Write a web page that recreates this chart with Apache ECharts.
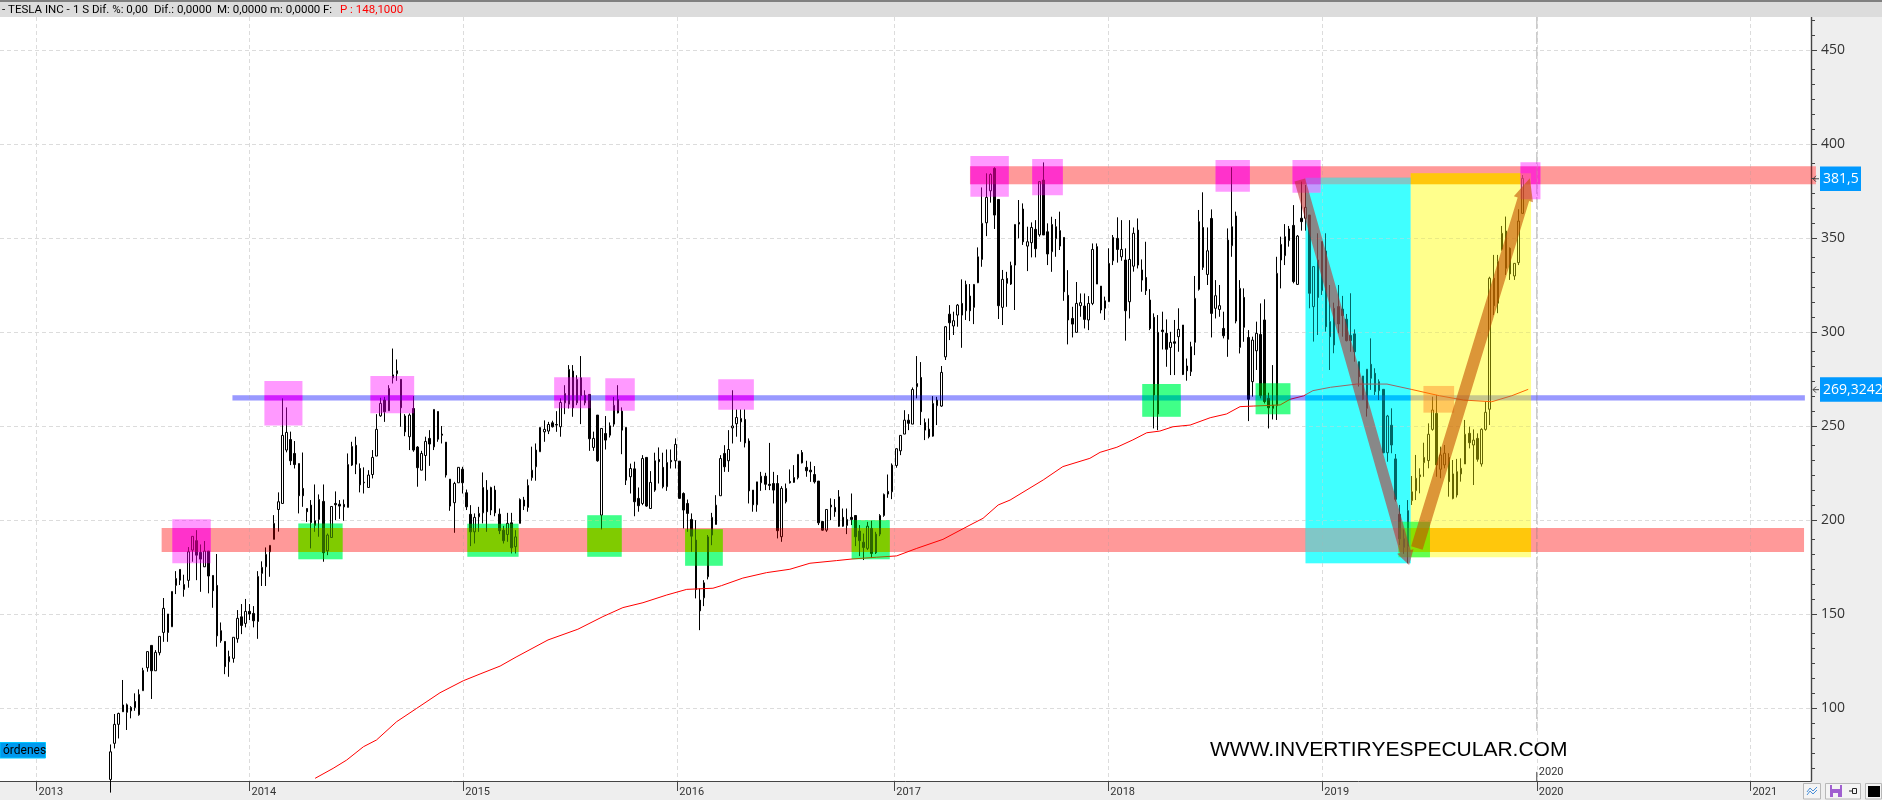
<!DOCTYPE html>
<html>
<head>
<meta charset="utf-8">
<title>TESLA INC</title>
<script src="https://cdn.jsdelivr.net/npm/echarts@6/dist/echarts.min.js"></script>
<style>
  html, body { margin: 0; padding: 0; background: #fff; }
  #main { width: 1882px; height: 800px; }
</style>
</head>
<body>
<div id="main"></div>
<script>
// weekly candles, first candle sits on week 27 of the axis
const firstWeek = 27;
const opens = [
  62,81.2,91.3,101.6,97.7,98.5,103.5,96.4,109.2,121.4,133.3,119.8,129.4,140.2,150,143.2,165.2,173.7,163,167.9,184,189,182.8,175.1,183.5,170.5,165.2,141.1,135.4,124.6,126.4,136.8,148.5,145,151.4,150.3,146,171.6,175.1,183.1,189.7,205.6,
  208.8,237.2,242.8,235.4,230,216.8,206.1,207.9,197.1,200.3,209.9,183.6,190.7,208.8,208.4,208.3,206.7,229.2,239.7,227.4,220.1,217.3,224.2,234,255.4,263.8,258.1,275.6,277.8,274.8,255.3,244.3,259.3,238.8,226.5,234.3,243.4,238.9,257.7,245.7,241.4,221.7,209.2,219.8,227,214.5,203,193.7,201.7,203.8,215.9,205.3,215.9,203.1,194.6,192.3,198.5,185.8,198.2,210.6,206.7,222.5,228.3,236.3,246.9,247.3,251.7,250.8,249.6,262.3,261.6,279.2,262.3,275.6,262.3,266.8,238.6,255.8,202.6,246,245.1,251,264.1,257.9,249.2,223,227.2,211.5,208.8,233.3,
  206.1,215.9,232.2,228,217.7,231.7,231.5,231.3,214.1,208.8,200.3,189.3,157.4,158.6,169.8,192,197.6,212.9,235.4,231.5,249,251.2,252.2,253.5,242,215.9,208.1,219.8,223.3,219,219.4,219.4,191.1,209.7,220.5,220,222.5,235.9,228,226.5,224.2,220.7,199.2,194.6,207.9,206.7,212.3,201.4,197.1,201.4,202.4,194.1,188.2,184.9,195.5,182.6,192.5,202.4,215.2,215,229,236.8,245.7,253.1,251,270.9,275.8,247.8,248.3,244.6,260.8,260.6,
  286.8,309.5,303.2,309,315.2,311.3,319.1,313.1,326.2,338.6,358.1,375.1,387,370.5,313.1,328.5,325.5,335.6,358.3,365.4,345.7,347.5,354.6,351.7,380.8,353.3,342.7,349.6,353.9,350.3,319.5,307.2,299.8,314,313.8,306.4,315.2,345.4,324.4,312.6,316.1,337.9,349.8,340,338.3,316.1,335,354.2,333,329,317,307.8,256.4,301,299.3,291.8,294.8,297.5,303.7,281.9,278.9,294.5,322.7,355.6,330.6,360.4,312.6,312,301.9,296.1,345.9,361.7,291.8,318.4,297.1,273.6,290,298.7,306.4,264.7,259.4,260.8,338.3,340.6,348.6,356.7,325.3,
  360.5,360.5,362.2,313.5,338.3,322,343.1,305.5,293.1,313.5,312.2,306.8,298.2,299,284.2,276.6,259.4,282.8,278,268.8,269.5,235.8,250.4,232.5,203,190,186,210.3,215.6,224,230.5,231.6,248.2,256.7,227,229.3,233.3,224.5,213.3,224.5,229.8,246.1,239.9,243.4,229.8,248.2,258.9,328.6,315.3,344,353.7,344.5,329.8,336.9,363.1
];
const closes = [
  76.7,91.3,97.1,98,101.7,100.3,100.3,107.2,120,130,119.8,129.6,138.1,153,140.2,162,168.9,168,165.7,183.1,191.3,181.3,179.2,183.5,170.2,162.4,138.4,135.8,122,127.4,137.6,147.7,143.9,151.4,150,146.4,170,174.8,181.7,186.5,198.2,209.7,
  245,246.6,231.5,229.5,212.9,212.9,204.4,198.7,199.6,210.9,182.6,192,207.2,208.1,207.4,207,229.5,239.1,229.7,218.7,219.8,223.9,233.3,248.2,262,257.6,270,277.2,279.4,259.7,246.9,255.8,237.2,227.8,235.4,241.8,240.4,258.8,243,245.1,223.9,207.4,219.4,228,219.8,207,193.7,201.4,203.5,217.3,204.4,217.3,203.8,194.3,189,198.2,185.2,191,210.9,207.4,218.4,226.5,237.2,249.2,248.2,250.8,249.6,250.5,262.5,267.3,280.1,259.7,274.8,266.1,266.4,243.2,243.4,231.5,248.7,242.5,250.1,261,257,247.8,221.2,227.4,209.7,207.6,232.7,207.4,
  220,231.5,231,217.7,230.6,231,240.2,211.5,205.3,203.5,191.4,163,151.7,166.6,191,201.4,207.9,232.7,228.3,237.5,250,254.5,254,241,215.5,208.1,220.3,223.3,219,218.4,215.9,194.3,216.8,216.8,219.8,222.6,234.9,230.4,226.2,225.6,220.3,198.5,194.6,205.6,207,204.4,196.7,196.7,200.3,200.3,191.1,189,185.4,196.7,182.2,192.5,202.4,213.6,213.8,229.2,237.9,245,253.1,251.4,269.4,272.6,257.6,251.9,244.3,262,263.8,278.5,
  302.8,304.9,306,314.3,309,325.3,311.3,325.3,340,357.8,371.6,383.8,362.2,314,328,325.9,335.4,357.2,357.4,348,348,355.6,344.3,380,351.6,341.5,357.2,356,345.7,321.4,306.4,304.2,315.2,315.6,306.7,315.2,343.9,325.5,311.7,316.6,336.5,350.3,343.9,343.9,311.3,338.6,352.5,335.6,327.6,322,301.9,266.5,299.8,300.2,290.8,294.5,294,301.4,277.4,279.4,292.2,317.9,358.7,334.4,343.2,309.9,319.3,314,298,348.9,356,305.8,323.2,302.5,264.2,295.7,299.3,266.1,263,259.7,261.1,331.2,346.6,350.7,354.8,326.8,351,
  358.7,366.3,320.6,334.8,318.4,348.1,302.8,297.5,312.6,304.3,308.7,295.4,295.4,289.5,276.2,264.2,280.2,275.4,268.3,273.6,235.8,255.3,239.9,211,190,185.5,205,215,222.2,223,233.3,245.6,258.5,229.3,234.6,235.5,220.4,211.5,225.7,227.5,245.6,241.1,242.5,232.3,248.2,257.3,328.6,314,337.4,352.5,333.9,330.9,336.5,359,381.7
];
const lows = [
  55,78.5,83.8,98,88.3,94.5,98.5,95.9,109.2,119.3,104.8,119.8,128,135.2,135.2,143.2,160.6,165.4,159.2,164,177.8,168,161.8,175,161,153.3,132.6,134.7,118,116.6,124.1,134.7,139.3,142.9,146.8,142.9,136.8,164.9,164.9,169.8,189.7,193.8,
  208.8,236,229.2,227.4,203.5,207,199,184.9,193.7,191.1,177.8,181.3,190.7,199.9,200.6,199.6,206.7,228.7,224.4,214.7,214.1,217.3,222.1,234,254.9,252.2,258.1,272.6,274,249.6,244.6,237.2,236.3,217.7,226.5,220.9,228.8,237.2,241.6,240.7,222.6,204.9,193.2,219.8,214.1,205.3,186.1,187.5,193.7,198.2,193.7,202.6,202,192.5,187.5,188.4,182.2,182.2,198.2,205.3,204.4,220.9,220.9,236.3,241.6,245.7,249.2,246.9,244.3,256.3,259.3,254.9,261.1,251,261,236.8,236.8,231,195,237.5,243.9,249.6,256.7,235,218.6,214.1,202,204.4,207.9,207,
  206.1,215,219.4,216.8,215.5,227.4,227.4,211.5,195.5,193.7,183.1,158.3,141.4,154.2,168.4,186.6,197.6,212.9,225.6,225.6,240.7,244.3,241.6,238.6,208.8,204.4,204.4,215.5,215.9,215.9,208.8,190.2,188.4,208.8,219.4,219.8,221.6,230.1,223,220.3,219.4,197.3,194.3,193.7,199.9,201.7,196.4,196.4,192.5,197.3,186.1,180.8,178.7,184,180,181.9,191.4,201.7,211.8,211.1,227.8,234.5,245.7,247.8,251,264.7,250.5,242.5,243.4,244.3,250.5,260.2,
  285.1,295.7,298.4,302.8,291.6,306.4,305.8,304.2,326,334.7,351,368.8,354.8,306.9,303.7,313.4,325,311.7,349.8,346.3,332.4,339.7,339.7,350.7,351.6,335.6,332,340,343.6,316.6,293.4,297.1,299.8,308.1,301.9,301,314.3,325.5,309.9,306.4,316,335.6,336.9,337.9,295.4,307.2,332.1,333.8,321.4,319.7,301,248.7,247.8,290.7,281.5,277.1,277.1,289.5,277.1,274.1,276.6,287.7,322,333,325,297.1,307.2,308.1,296.6,286.8,340,304.6,288.6,294.8,252.6,265.6,279.8,264.7,262,248.7,253.5,253.2,323.2,335.6,345.4,325.9,325,
  353.9,353.9,312.6,294.9,298.4,319.7,300.2,279.8,288.7,299.3,297.5,295,289.5,284.2,271,263.8,255,269.2,266.5,263.8,235.5,231,235.5,209.8,186.7,182,177,208,210.6,214.2,223,227.5,247.5,223,222.2,227.5,212.4,211,212,220.4,229.8,238.1,218.6,231,228.4,247.5,250.5,309,310,343.3,330.3,327.7,327.7,335.6,363
];
const highs = [
  80.6,96.8,97.5,114.9,102.4,101,107.8,109.9,121.4,130,133.3,130.8,138.1,158.5,150,162,172.8,173.7,170.9,185.6,191.3,194.6,187,188.8,183.5,170.5,181.9,145.5,135.4,130.5,137.6,152.1,155.3,158,155.3,154.2,172.8,178,185.4,186.5,202.6,214.7,
  264.7,259.9,247,242,230,235.9,206.1,210.6,218.9,213.6,218.9,192.8,207.2,215.2,210.6,210.9,235.4,241.6,244.3,230.1,228,226.5,237.2,256.3,265,265.5,271.7,291.2,285.4,274.8,256.3,256.7,265.9,239.3,236.8,244.3,247.8,258.8,257.7,250,241.4,221.7,220.3,228,228.3,216.2,207.9,203.5,207,225.3,221.2,217.7,218.2,206.1,196.9,203.8,203.8,194.6,211.5,212.3,221.6,239,240.7,249.2,253,252.2,252.8,257.9,264.7,271.7,282.4,282.4,277,287.2,269,266.8,247,255.8,248.7,255.3,251.9,265.5,271.7,259.9,249.2,230,231,217.3,234.5,233.3,
  226,235.8,238.6,235.8,237.5,237.5,243.4,231.3,214.7,210.9,203.5,199.9,163.6,168,192,203.8,213.2,234.5,239.8,247.8,269,258.8,258.8,258.8,243.4,215.9,220.3,225.6,225.1,241,225.6,223.9,218,219.4,226.9,229.2,234.9,237.2,231.5,231,228.7,220.7,199.2,205.6,211.5,211.1,215.9,206.1,206.1,214.1,202.4,197.3,192.8,199,199.6,193.7,203.1,214.1,224.2,230.1,238.1,245,258.4,256.3,270.5,287.2,284,254,254,265.9,265.5,281.9,
  303.2,314.3,310.8,314.9,328,327.3,325.5,325.5,345,376.9,384.4,384.4,387.6,370.5,333,332,337.4,357.2,370.2,368.4,356,358.3,359.5,380,390.2,357.8,361.3,360.1,364,350.3,332.9,313.4,326.6,320.5,320.5,319.1,347.1,347.1,324.4,318.8,344.5,351.6,361,359.5,344.5,359.5,355.6,360.4,338.6,348,322.8,309.9,309,310.8,306.7,300.1,306.4,312.6,303.7,285.9,294.8,329.8,364.9,374.3,355.6,365.2,327.6,325,310.8,355.1,387.6,364,327.6,323.2,301,297.5,305.5,315.2,317.4,267.7,282.4,340,350.7,357.4,356.4,367.5,351.6,
  380,378.2,362.2,334.8,352.5,348.1,352.5,325,315.6,325,319.2,309.6,320.6,301.4,284.2,276.6,280.2,296.6,280.7,274.8,269.5,255.9,259.4,235.1,208,195,210.6,223.4,234.6,227.5,241.1,251.4,265.6,266.5,239,239.9,235.5,231.9,232.5,232.8,253.2,249.7,248.2,246.1,248.8,263,329.4,341,341,356.4,361.4,345,336.5,365.3,383.5
];

// moving average, [week, price]
const maWeeks = [77,81.4,84.7,88.8,92,96.9,101.8,107.5,113.2,117.3,122.2,126.1,133.9,141.2,147.3,152.2,157.1,162.9,167.8,174.2,176.3,181.5,187.3,193,197.9,204.4,208.4,214.2,219.1,224,230.4,237,240.2,243.9,246.8,254.9,259.7,266.3,268.8,272.9,276.8,280.2,283.4,286.6,290.8,295.7,299.7,303,306.2,312.8,315.2,318.5,320.8,325.1,331.5,338.9,344.8,351.7,357.6,364.5,369.4,373.4];
const maValues = [62.6,67.9,72.3,79.4,83,92.7,99.8,108.1,114.5,118.1,122.3,127.1,136.2,141.9,148.6,153.4,156,160.1,163.1,163.7,165.1,169.1,172,173.8,177,178.4,179.3,180.2,180.9,184.9,189.7,197.3,200.9,208,210.6,221.3,228.4,232.8,236,238.7,242.6,246.4,247.3,249.6,250.5,254.4,256.4,260.3,260.6,261.2,264.2,266,268.8,270.6,272.3,272.3,269.5,266.1,263.8,262.9,266.1,269.5];

// axis
const weekMax = 442.5;
const priceMin = 61.17;
const priceMax = 467.55;
const yearLabels = ['2013','2014','2015','2016','2017','2018','2019','2020','2021'];
const yearWeeks = [8.92,60.96,113.2,165.5,218.5,270.8,323.1,375.5,427.7];
const priceTicks = [100,150,200,250,300,350,400,450];
const priceMinorTicks = [68,76,84,92,108,116,124,132,140,158,166,174,182,190,208,216,224,232,240,258,266,274,282,290,308,316,324,332,340,358,366,374,382,390,408,416,424,432,440,458,466];

// drawn zones, [week from, week to, price low, price high]
const redBands = [[39.5,440.8,183,195.7],[237,443.7,378.6,388.1]];
const blueBands = [[56.8,441,263.5,266.3]];
const cyanZones = [[319,344.7,177,382.1]];
const yellowZones = [[344.7,374.1,180.2,384.4]];
const pinkZones = [[42.1,51.5,177,200.4],[64.6,73.9,250.2,273.9],[90.5,101.2,256.8,276.6],[135.4,144.3,259.4,275.9],[147.9,155.1,258.1,275.4],[175.5,184.2,258.7,274.8],[237.1,246.5,372,393.6],[252.2,259.7,372.7,392],[297,305.4,374.6,391.5],[315.8,322.7,374.1,391.5],[371.5,376.4,370.6,390.3]];
const greenZones = [[72.9,83.7,179.1,198.2],[114.2,126.7,180.5,198],[143.5,151.9,180.5,202.5],[167.4,176.6,175.7,195.1],[208.1,217.4,179.1,200],[279.1,288.5,254.9,272.3],[306.8,315.3,256.3,272.7],[341.7,349.4,180.2,199.1]];
const peachZones = [[347.8,355.3,257.1,271.3]];
// arrows, [tail week, tail price, tip week, tip price]
const greyArrow = [317.6,380.9,344.3,176.1];
const orangeArrow = [346.2,185.1,373.8,381.8];
// price tags on the scale
const tagValues = [381.5,269.3242];
const tagTexts = ['381,5','269,3242'];
// the "now" marker
const nowWeek = 375.5;
const nowLabel = '2020';
const nowLineEnd = 87.8;
const nowTickEnd = 66;

const font = 'Open Sans';

const candleData = opens.map((o, i) => [firstWeek + i, o, closes[i], lows[i], highs[i]]);
const maData = maValues.map((v, i) => [maWeeks[i], v]);

// every zone kind has a tint laid over the candles, and the colour it must look like at the end
const kinds = {
  red:    { tint: [255,0,0],   a: 0.3, look: [255,153,153] },
  blue:   { tint: [0,0,255],   a: 0.3, look: [153,153,255] },
  cyan:   { tint: [0,255,255], a: 0.4, look: [64,255,255],  red: [128,200,200], blue: [0,191,255] },
  yellow: { tint: [255,255,0], a: 0.4, look: [255,255,140], red: [255,200,12],  blue: [200,200,140] },
  pink:   { tint: [255,0,255], a: 0.4, look: [255,160,255], red: [255,51,204],  blue: [240,30,255] },
  green:  { tint: [0,255,0],   a: 0.4, look: [64,255,136],  red: [128,204,0],   blue: [0,200,160] },
  peach:  { tint: [255,120,0], a: 0.4, look: [255,200,160], red: [255,200,160], blue: [205,180,170] }
};

function undo(col, kind) {
  return col.map((c, i) => Math.max(0, Math.min(255, (c - kind.tint[i] * kind.a) / (1 - kind.a))));
}
function rgb(col) { return `rgb(${col.map(Math.round).join(',')})`; }
function rgba(col, a) { return `rgba(${col.join(',')},${a})`; }

const bandList = [];
redBands.forEach(b => bandList.push({ box: b, kind: 'red' }));
blueBands.forEach(b => bandList.push({ box: b, kind: 'blue' }));
const zoneList = [];
cyanZones.forEach(b => zoneList.push({ box: b, kind: 'cyan' }));
yellowZones.forEach(b => zoneList.push({ box: b, kind: 'yellow' }));
greenZones.forEach(b => zoneList.push({ box: b, kind: 'green' }));
pinkZones.forEach(b => zoneList.push({ box: b, kind: 'pink' }));
peachZones.forEach(b => zoneList.push({ box: b, kind: 'peach' }));

// layer under the candles: solid colours, overlaps worked out by hand
const underBoxes = [];
const underColors = [];
function addUnder(box, col) { underBoxes.push(box); underColors.push(rgb(col)); }
bandList.forEach(b => addUnder(b.box, undo(kinds[b.kind].look, kinds[b.kind])));
zoneList.forEach(z => addUnder(z.box, undo(kinds[z.kind].look, kinds[z.kind])));
zoneList.forEach(z => {
  bandList.forEach(b => {
    const x1 = Math.max(z.box[0], b.box[0]);
    const x2 = Math.min(z.box[1], b.box[1]);
    const y1 = Math.max(z.box[2], b.box[2]);
    const y2 = Math.min(z.box[3], b.box[3]);
    if (x1 < x2 && y1 < y2) {
      addUnder([x1, x2, y1, y2], undo(undo(kinds[z.kind][b.kind], kinds[z.kind]), kinds[b.kind]));
    }
  });
});

// layer over the candles: the tints
const overList = bandList.concat(zoneList);
const overBoxes = overList.map(o => o.box);
const overColors = overList.map(o => rgba(kinds[o.kind].tint, kinds[o.kind].a));

function boxRenderer(colors) {
  return function (params, api) {
    const a = api.coord([api.value(0), api.value(3)]);
    const b = api.coord([api.value(1), api.value(2)]);
    return {
      type: 'rect',
      shape: { x: a[0], y: a[1], width: b[0] - a[0], height: b[1] - a[1] },
      style: { fill: colors[params.dataIndex] }
    };
  };
}

function arrowRenderer(color, shaft, headWidth, headLen) {
  return function (params, api) {
    const t = api.coord([api.value(0), api.value(1)]);
    const p = api.coord([api.value(2), api.value(3)]);
    const len = Math.hypot(p[0] - t[0], p[1] - t[1]);
    const ux = (p[0] - t[0]) / len;
    const uy = (p[1] - t[1]) / len;
    const side = (w, along) => [p[0] - ux * along - uy * w, p[1] - uy * along + ux * w];
    const tailA = [t[0] - uy * shaft / 2, t[1] + ux * shaft / 2];
    const tailB = [t[0] + uy * shaft / 2, t[1] - ux * shaft / 2];
    return {
      type: 'polygon',
      shape: { points: [tailA, side(shaft / 2, headLen), side(headWidth / 2, headLen), p, side(-headWidth / 2, headLen), side(-shaft / 2, headLen), tailB] },
      style: { fill: color }
    };
  };
}

function tagRenderer(params, api) {
  const pos = api.coord([weekMax, api.value(0)]);
  const txt = tagTexts[params.dataIndex];
  const w = 6 + 7 * txt.length;
  return {
    type: 'group',
    children: [
      { type: 'rect', shape: { x: pos[0] + 9, y: pos[1] - 12.3, width: w, height: 24.5 }, style: { fill: '#0099ff' } },
      { type: 'text', style: { x: pos[0] + 12, y: pos[1], text: txt, fill: '#fff', font: `14px "${font}"`, verticalAlign: 'middle' } },
      { type: 'polyline', shape: { points: [[pos[0] + 8, pos[1]], [pos[0] + 2, pos[1]]] }, style: { stroke: '#444', lineWidth: 1, fill: null } },
      { type: 'polyline', shape: { points: [[pos[0] + 5, pos[1] - 3], [pos[0] + 2, pos[1]], [pos[0] + 5, pos[1] + 3]] }, style: { stroke: '#444', lineWidth: 1, fill: null } }
    ]
  };
}

function minorTickRenderer(params, api) {
  const pos = api.coord([weekMax, api.value(0)]);
  const y = Math.round(pos[1]) + 0.5;
  return {
    type: 'line',
    shape: { x1: pos[0], y1: y, x2: pos[0] + 4, y2: y },
    style: { stroke: '#444', lineWidth: 1 }
  };
}

function nowRenderer(params, api) {
  const x = api.coord([api.value(0), priceMin]);
  const top = api.coord([api.value(0), priceMax]);
  const lineEnd = api.coord([api.value(0), nowLineEnd]);
  const tickTop = api.coord([api.value(0), nowTickEnd]);
  return {
    type: 'group',
    children: [
      { type: 'line', shape: { x1: x[0], y1: top[1], x2: x[0], y2: lineEnd[1] }, style: { stroke: '#c4c4c4', lineWidth: 1.3, lineDash: [12, 3] } },
      { type: 'line', shape: { x1: x[0], y1: tickTop[1], x2: x[0], y2: x[1] }, style: { stroke: '#444', lineWidth: 1 } },
      { type: 'text', style: { x: x[0] + 2, y: tickTop[1], text: nowLabel, fill: '#333', font: '11px Roboto', verticalAlign: 'middle' } }
    ]
  };
}

const headerBits = [
  { x: 2, text: '- TESLA INC -' },
  { x: 73, text: '1 S' },
  { x: 92, text: 'Dif. %: 0,00' },
  { x: 154, text: 'Dif.: 0,0000' },
  { x: 217, text: 'M: 0,0000' },
  { x: 270, text: 'm: 0,0000' },
  { x: 323, text: 'F:' },
  { x: 340, text: 'P : 148,1000', fill: '#ff0000' }
];

const option = {
  backgroundColor: '#fff',
  animation: false,
  grid: { left: 0, right: 71, top: 17, bottom: 19 },
  xAxis: {
    type: 'value',
    min: 0,
    max: weekMax,
    axisLine: { show: true, onZero: false, lineStyle: { color: '#444', width: 1 } },
    axisTick: { show: true, customValues: yearWeeks, length: 10, lineStyle: { color: '#444', width: 1 } },
    axisLabel: {
      customValues: yearWeeks,
      formatter: v => yearLabels[yearWeeks.indexOf(v)],
      align: 'left',
      margin: 6,
      padding: [0, 0, 0, 2],
      fontFamily: 'Roboto',
      fontSize: 11,
      color: '#333'
    },
    splitLine: { show: true, lineStyle: { color: '#dcdcdc', type: [4, 3], width: 1 } }
  },
  yAxis: {
    type: 'value',
    position: 'right',
    min: priceMin,
    max: priceMax,
    axisLine: { show: true, onZero: false, lineStyle: { color: '#444', width: 1.4 } },
    axisTick: { show: true, customValues: priceTicks, length: 6, lineStyle: { color: '#444' } },
    axisLabel: { customValues: priceTicks, margin: 10, fontFamily: font, fontSize: 14, color: '#333' },
    splitLine: { show: true, lineStyle: { color: '#dcdcdc', type: [4, 3], width: 1 } }
  },
  series: [
    {
      name: 'zones under',
      type: 'custom',
      z: -1,
      silent: true,
      renderItem: boxRenderer(underColors),
      encode: { x: [0, 1], y: [2, 3] },
      data: underBoxes
    },
    {
      name: 'TESLA INC',
      type: 'candlestick',
      z: 2,
      barWidth: 2,
      silent: true,
      itemStyle: { color: 'transparent', color0: '#000', borderColor: '#000', borderColor0: '#000', borderWidth: 1 },
      data: candleData
    },
    {
      name: 'media',
      type: 'line',
      z: 3,
      silent: true,
      showSymbol: false,
      lineStyle: { color: '#ff0000', width: 1 },
      data: maData
    },
    {
      name: 'now',
      type: 'custom',
      z: 4,
      silent: true,
      renderItem: nowRenderer,
      encode: { x: 0 },
      data: [[nowWeek]]
    },
    {
      name: 'zones over',
      type: 'custom',
      z: 5,
      silent: true,
      renderItem: boxRenderer(overColors),
      encode: { x: [0, 1], y: [2, 3] },
      data: overBoxes
    },
    {
      name: 'arrow down',
      type: 'custom',
      z: 6,
      silent: true,
      renderItem: arrowRenderer('rgba(193,43,43,0.56)', 11, 17, 14),
      encode: { x: [0, 2], y: [1, 3] },
      data: [greyArrow]
    },
    {
      name: 'arrow up',
      type: 'custom',
      z: 6,
      silent: true,
      renderItem: arrowRenderer('rgba(197,80,0,0.6)', 12, 20, 22),
      encode: { x: [0, 2], y: [1, 3] },
      data: [orangeArrow]
    },
    {
      name: 'minor ticks',
      type: 'custom',
      z: 7,
      silent: true,
      renderItem: minorTickRenderer,
      encode: { y: 0 },
      data: priceMinorTicks.map(v => [v])
    },
    {
      name: 'tags',
      type: 'custom',
      z: 7,
      silent: true,
      renderItem: tagRenderer,
      encode: { y: 0 },
      data: tagValues.map(v => [v])
    }
  ],
  graphic: [
    // grey frame around the plot
    { type: 'rect', z: -2, silent: true, shape: { x: 0, y: 781, width: 1882, height: 19 }, style: { fill: '#eeeeee' } },
    { type: 'rect', z: -2, silent: true, shape: { x: 1811, y: 0, width: 71, height: 800 }, style: { fill: '#eeeeee' } },
    { type: 'rect', z: 10, silent: true, shape: { x: 0, y: 0, width: 1882, height: 2 }, style: { fill: '#808080' } },
    { type: 'rect', z: 10, silent: true, shape: { x: 0, y: 2, width: 1882, height: 15 }, style: { fill: '#dcdcdc' } }
  ].concat(headerBits.map(h => ({
    type: 'text', z: 11, silent: true, x: h.x, y: 10,
    style: { text: h.text, fill: h.fill || '#000', font: '11.5px Roboto', verticalAlign: 'middle' }
  }))).concat([
    // órdenes button
    { type: 'rect', z: 10, silent: true, shape: { x: 0, y: 742.5, width: 45.5, height: 15.5 }, style: { fill: '#0099ee', stroke: '#00c8ff', lineWidth: 1 } },
    { type: 'text', z: 11, silent: true, x: 3, y: 751, style: { text: 'órdenes', fill: '#000', font: '12px Roboto', verticalAlign: 'middle' } },
    // watermark
    { type: 'text', z: 10, silent: true, x: 1210, y: 750, style: { text: 'WWW.INVERTIRYESPECULAR.COM', fill: '#000', font: '21px "Liberation Sans"', verticalAlign: 'middle' } },
    // toolbar, bottom right
    { type: 'rect', z: 10, silent: true, shape: { x: 1803.5, y: 783.5, width: 17, height: 15.5 }, style: { fill: '#f4f4f4', stroke: '#b8b8b8', lineWidth: 1 } },
    { type: 'polyline', z: 11, silent: true, shape: { points: [[1807, 792], [1810, 788], [1813, 791], [1817, 787]] }, style: { stroke: '#4a90d9', lineWidth: 1, fill: null } },
    { type: 'polyline', z: 11, silent: true, shape: { points: [[1807, 795], [1810, 791], [1813, 794], [1817, 790]] }, style: { stroke: '#4a90d9', lineWidth: 1, fill: null } },
    { type: 'rect', z: 10, silent: true, shape: { x: 1825.5, y: 783.5, width: 35, height: 15.5 }, style: { fill: '#f4f4f4', stroke: '#b8b8b8', lineWidth: 1 } },
    { type: 'rect', z: 11, silent: true, shape: { x: 1830, y: 785, width: 12, height: 12 }, style: { fill: '#a060d0' } },
    { type: 'rect', z: 12, silent: true, shape: { x: 1832, y: 785, width: 8, height: 4 }, style: { fill: '#f4f4f4' } },
    { type: 'rect', z: 12, silent: true, shape: { x: 1833, y: 793, width: 5, height: 4 }, style: { fill: '#f4f4f4' } },
    { type: 'rect', z: 11, silent: true, shape: { x: 1852.5, y: 788.5, width: 4, height: 5 }, style: { fill: 'none', stroke: '#222', lineWidth: 1 } },
    { type: 'polyline', z: 11, silent: true, shape: { points: [[1849, 791], [1852, 791]] }, style: { stroke: '#222', lineWidth: 1, fill: null } },
    { type: 'rect', z: 10, silent: true, shape: { x: 1865.5, y: 783.5, width: 16, height: 15.5 }, style: { fill: '#f4f4f4', stroke: '#b8b8b8', lineWidth: 1 } },
    { type: 'rect', z: 11, silent: true, shape: { x: 1868, y: 786, width: 12, height: 11 }, style: { fill: '#000' } }
  ])
};

const chart = echarts.init(document.getElementById('main'));
chart.setOption(option);
</script>
</body>
</html>
